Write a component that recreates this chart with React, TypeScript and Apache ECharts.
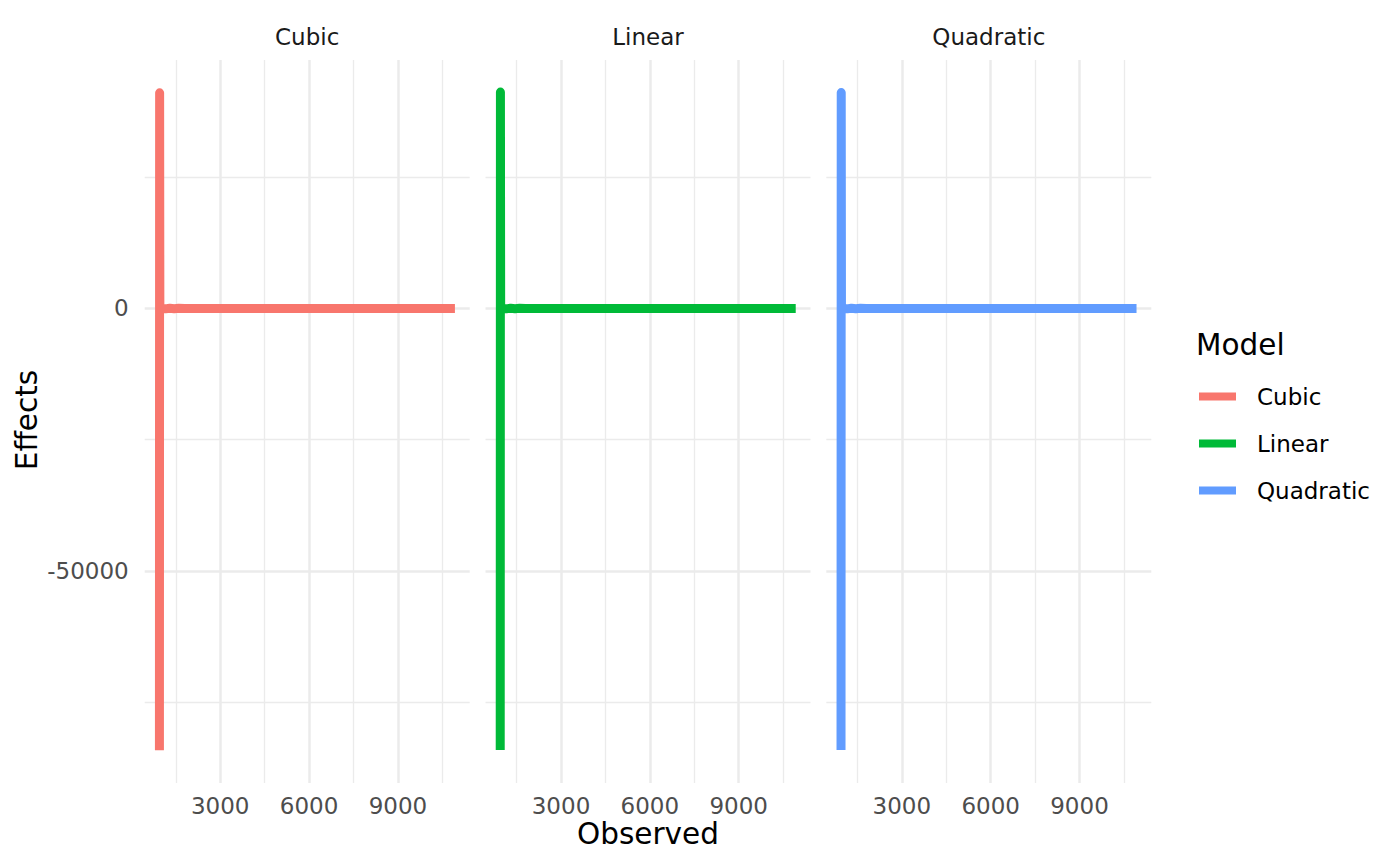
import React, { useEffect, useRef } from "react";
import * as echarts from "echarts";

const models = ["Cubic", "Linear", "Quadratic"];
const colors = ["#F8766D", "#00BA38", "#619CFF"];

const observed = [948, 955, 963, 1010, 1150, 1300, 1450, 1600, 1800, 2100, 2600, 3200, 4000, 4900, 5800, 6800, 7800, 8800, 9800, 10400, 10925];
const cubicEffects = [-84130, 41050, -350, 60, -90, 40, -60, 20, -10, 5, 3, -2, 1, 1, 0, 0, -1, 1, 0, 0, 0];
const linearEffects = [-84100, 41200, -330, 55, -85, 38, -55, 18, -9, 4, 2, -2, 1, 1, 0, 0, -1, 1, 0, 0, 0];
const quadraticEffects = [-84120, 41100, -340, 58, -88, 39, -58, 19, -9, 5, 3, -2, 1, 1, 0, 0, -1, 1, 0, 0, 0];
const effects = [cubicEffects, linearEffects, quadraticEffects];

const xMajor = [3000, 6000, 9000];
const xMinor = [1500, 4500, 7500, 10500];
const yMajor = [-50000, 0];
const yMinor = [-75000, -25000, 25000];

const X_MIN = 451;
const X_MAX = 11424;
const Y_MIN = -90389;
const Y_MAX = 47309;

const FONT = "DejaVu Sans";

export default function App() {
  const ref = useRef<HTMLDivElement>(null);
  useEffect(() => {
    if (!ref.current) return;
    const chart = echarts.init(ref.current, null, { renderer: "svg" });
    const lefts = [144.7, 485.5, 826.3];
    const W = 325;
    const top = 60;
    const H = 723;
    const grids = lefts.map((l) => ({ left: l, top, width: W, height: H, containLabel: false }));
    const xAxes: any[] = [];
    const yAxes: any[] = [];
    const fmt = (v: number) => String(v);
    lefts.forEach((_, i) => {
      xAxes.push({
        type: "value", gridIndex: i, min: X_MIN, max: X_MAX,
        axisLine: { show: false },
        axisTick: { show: false, customValues: xMinor },
        axisLabel: { show: false, customValues: xMinor },
        splitLine: { show: true, lineStyle: { color: "#EBEBEB", width: 1.3 } },
      });
      xAxes.push({
        type: "value", gridIndex: i, min: X_MIN, max: X_MAX, position: "bottom",
        axisLine: { show: false },
        axisTick: { show: false, customValues: xMajor },
        axisLabel: { show: true, customValues: xMajor, formatter: fmt, fontSize: 23, color: "#4D4D4D", fontFamily: FONT, margin: 11 },
        splitLine: { show: true, lineStyle: { color: "#EBEBEB", width: 2.5 } },
      });
      yAxes.push({
        type: "value", gridIndex: i, min: Y_MIN, max: Y_MAX,
        axisLine: { show: false },
        axisTick: { show: false, customValues: yMinor },
        axisLabel: { show: false, customValues: yMinor },
        splitLine: { show: true, lineStyle: { color: "#EBEBEB", width: 1.3 } },
      });
      yAxes.push({
        type: "value", gridIndex: i, min: Y_MIN, max: Y_MAX, position: "left",
        axisLine: { show: false },
        axisTick: { show: false, customValues: yMajor },
        axisLabel: { show: i === 0, customValues: yMajor, formatter: fmt, fontSize: 23, color: "#4D4D4D", fontFamily: FONT, margin: 16 },
        splitLine: { show: true, lineStyle: { color: "#EBEBEB", width: 2.5 } },
      });
    });
    const series = models.map((m, i) => ({
      name: m,
      type: "line",
      xAxisIndex: i * 2 + 1,
      yAxisIndex: i * 2 + 1,
      data: observed.map((x, k) => [x, effects[i][k]]),
      showSymbol: false,
      symbol: "none",
      color: colors[i],
      lineStyle: { color: colors[i], width: 9, join: "round", cap: "butt" },
      z: 5,
    }));
    const graphic: any[] = models.map((m, i) => ({
      type: "text",
      x: lefts[i] + W / 2,
      y: 37,
      style: { text: m, fontSize: 23, fontFamily: FONT, fill: "#1A1A1A", align: "center", verticalAlign: "middle" },
    }));
    graphic.push({
      type: "text", x: 648, y: 834,
      style: { text: "Observed", fontSize: 29.5, fontFamily: FONT, fill: "#000", align: "center", verticalAlign: "middle" },
    });
    graphic.push({
      type: "text", x: 27, y: 420, rotation: Math.PI / 2,
      style: { text: "Effects", fontSize: 29.5, fontFamily: FONT, fill: "#000", align: "center", verticalAlign: "middle" },
    });
    graphic.push({
      type: "text", x: 1196, y: 345,
      style: { text: "Model", fontSize: 29.5, fontFamily: FONT, fill: "#000", align: "left", verticalAlign: "middle" },
    });
    chart.setOption({
      animation: false,
      backgroundColor: "#fff",
      grid: grids,
      xAxis: xAxes,
      yAxis: yAxes,
      series,
      legend: {
        data: models,
        orient: "vertical",
        left: 1199,
        top: 385,
        padding: 0,
        itemWidth: 37,
        itemHeight: 8,
        itemGap: 24,
        icon: "rect",
        selectedMode: false,
        textStyle: { fontSize: 23, fontFamily: FONT, color: "#000", lineHeight: 22, padding: [0, 0, 0, 16] },
      },
      graphic,
    });
    return () => chart.dispose();
  }, []);
  return <div ref={ref} style={{ position: "fixed", left: 0, top: 0, width: 1400, height: 866 }} />;
}
